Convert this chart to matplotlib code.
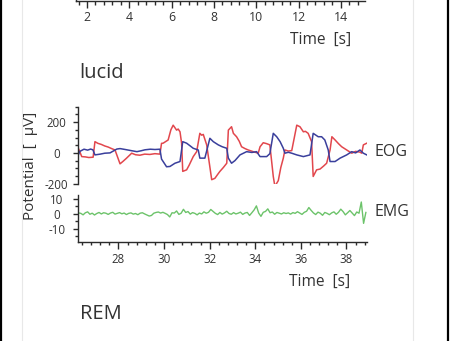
import numpy as np
import matplotlib
matplotlib.use("Agg")
import matplotlib.pyplot as plt
from matplotlib.lines import Line2D
from matplotlib.ticker import MultipleLocator

plt.rcParams['font.family'] = ['Open Sans', 'DejaVu Sans']

TXT = '#333333'
RED = '#e2474d'
BLUE = '#3a3f9c'
GREEN = '#6cc36a'

# EOG traces: (time [s], potential [µV])
eog_red_t = [26.24, 26.30, 26.39, 26.55, 26.70, 26.89, 26.97, 27.10, 27.25, 27.40,
             27.55, 27.70, 27.85, 28.07, 28.20, 28.35, 28.58, 28.75, 28.94, 29.15,
             29.38, 29.60, 29.82, 29.89, 29.96, 30.18, 30.30, 30.40, 30.55, 30.62,
             30.70, 30.77, 30.82, 30.99, 31.10, 31.28, 31.43, 31.57, 31.65, 31.72,
             31.87, 32.09, 32.23, 32.35, 32.45, 32.60, 32.75, 32.82, 32.96, 33.04,
             33.18, 33.30, 33.40, 33.55, 33.69, 33.91, 34.13, 34.21, 34.35, 34.50,
             34.64, 34.79, 34.86, 35.01, 35.12, 35.23, 35.30, 35.45, 35.60, 35.82,
             35.96, 36.11, 36.20, 36.32, 36.47, 36.54, 36.69, 36.84, 37.00, 37.13,
             37.28, 37.36, 37.50, 37.65, 37.79, 38.01, 38.23, 38.40, 38.59, 38.67,
             38.74, 38.89]
eog_red_v = [30, 10, -24, -26, -30, -28, 73, 62, 55, 45,
             38, 28, 19, -71, -55, -35, -2, -12, -15, -8,
             -10, -5, -8, 62, 63, 84, 150, 180, 148, 155,
             137, 63, -120, -110, -80, -24, 8, 127, 115, 120,
             52, -174, -165, -140, -120, -95, -67, 148, 170, 127,
             105, 75, 40, 28, 19, 8, -2, 40, 66, 60,
             52, -153, -217, -180, -95, -34, 19, 12, 15, 180,
             170, 137, 140, 127, 73, -153, -110, -105, -85, -67,
             19, 105, 84, 60, 40, 19, -2, 10, 5, -2,
             52, 63]

eog_blue_t = [26.24, 26.31, 26.49, 26.65, 26.78, 26.88, 26.97, 27.20, 27.40, 27.63,
              27.93, 28.07, 28.30, 28.55, 28.81, 29.00, 29.16, 29.40, 29.60, 29.82,
              29.89, 30.11, 30.26, 30.48, 30.70, 30.82, 30.99, 31.15, 31.28, 31.50,
              31.57, 31.79, 32.01, 32.16, 32.38, 32.55, 32.75, 32.82, 32.96, 33.11,
              33.33, 33.62, 33.85, 34.06, 34.21, 34.50, 34.64, 34.79, 34.94, 35.09,
              35.23, 35.30, 35.45, 35.60, 35.82, 36.11, 36.40, 36.54, 36.76, 36.91,
              37.05, 37.20, 37.28, 37.50, 37.72, 38.01, 38.23, 38.40, 38.59, 38.74,
              38.89]
eog_blue_v = [-13, 10, 24, 18, 25, 20, -13, -8, -2, 0,
              25, 28, 22, 15, 8, 14, 20, 24, 22, 24,
              -40, -90, -88, -67, -56, 73, 63, 45, 30, 19,
              -34, -34, 95, 73, 52, 40, 30, -34, -67, -50,
              -13, 8, 3, 8, -24, -24, -5, 127, 105, 73,
              30, -2, 4, -2, -13, -24, -13, 127, 105, 105,
              84, 19, -56, -56, -34, -13, 8, 0, 19, -2,
              -13]

# EMG trace, one value every 0.1 s from 26.25 s
emg_t0 = 26.25
emg_dt = 0.1
emg_v = [0.5, 0.2, -0.8, 0.6, 1.2, -0.4, 0.3, -0.9, 0.1, 0.8,
         -0.2, 0.6, 0.3, -0.5, 0.4, 0.9, -0.3, 0.2, 0.7, -0.1,
         0.4, -0.6, 0.2, 0.5, -0.3, 0.1, -0.7, 0.3, 0.6, -0.2,
         -0.9, -1.6, -1.2, 0.3, 0.8, 1.1, 0.4, 0.9, 0.2, -0.6,
         -2.2, 0.6, 0.4, 1.8, -0.5, 0.3, 2.9, 0.8, 1.4, -0.3,
         0.7, 0.2, -0.8, 0.4, -0.2, 1.2, 0.3, 0.9, 2.8, 1.5,
         0.2, -0.6, 0.8, -0.3, 0.5, 1.6, 0.1, -0.4, 0.7, -0.2,
         0.3, 1.0, -0.5, 0.4, 0.8, -1.2, 0.6, 2.5, 5.2, 0.4,
         -1.8, 0.9, 1.5, 3.2, 0.6, 1.1, -0.4, 0.8, 0.3, -0.2,
         0.6, 0.1, 0.5, -0.3, 0.7, 0.2, 1.3, 0.4, -0.5, 0.9,
         1.6, 4.1, 2.2, 0.5, -0.6, 1.0, 0.3, -1.1, 0.8, 0.2,
         -0.7, 0.5, 1.2, -0.4, 0.9, 3.0, 1.4, -0.8, 0.6, 2.1,
         0.4, -1.3, 1.1, 0.3, 7.8, -6.5, 0.8]
emg_t = emg_t0 + emg_dt * np.arange(len(emg_v))

top_ticks = [2, 4, 6, 8, 10, 12, 14]
rem_ticks = [28, 30, 32, 34, 36, 38]

W, H = 454, 341
fig = plt.figure(figsize=(W / 100, H / 100), dpi=100)


def box(x0, y0, x1, y1):
    # pixel box (top-left origin) -> figure fraction rect
    return [x0 / W, 1 - y1 / H, (x1 - x0) / W, (y1 - y0) / H]


def style(ax, spines):
    for s in ax.spines:
        ax.spines[s].set_visible(s in spines)
        ax.spines[s].set_color('#2b2b2b')
        ax.spines[s].set_linewidth(1.0)
    ax.set_facecolor('none')
    ax.tick_params(which='both', direction='out', color='#2b2b2b', width=1.0,
                   labelcolor=TXT)


# frame decoration of the cropped page
for x, c, lw in [(0.8, 'black', 1.6), (448.2, 'black', 1.6),
                 (22, '#e8e8e8', 0.8), (413, '#e8e8e8', 0.8)]:
    fig.add_artist(Line2D([x / W, x / W], [0, 1], color=c, lw=lw))

# top panel (cut off, only x axis visible)
ax0 = fig.add_axes(box(76, -60, 365, 1.2))
style(ax0, ['bottom', 'left'])
ax0.set_xlim(1.48, 15.14)
ax0.set_ylim(0, 1)
ax0.set_xticks(top_ticks)
ax0.xaxis.set_minor_locator(MultipleLocator(0.4))
ax0.set_yticks([])
ax0.tick_params(axis='x', which='major', length=5, labelsize=8.8, pad=2)
ax0.tick_params(axis='x', which='minor', length=3)
fig.text(320.5 / W, 1 - 40 / H, 'Time  [s]', ha='center', va='center',
         fontsize=11.2, color=TXT)
fig.text(79 / W, 1 - 77.5 / H, 'lucid', ha='left', va='baseline',
         fontsize=14.5, color=TXT)

# EOG panel
ax1 = fig.add_axes(box(78.3, 106.7, 367, 183.7))
style(ax1, ['left'])
ax1.plot(eog_red_t, eog_red_v, color=RED, lw=1.1)
ax1.plot(eog_blue_t, eog_blue_v, color=BLUE, lw=1.1)
ax1.set_xlim(26.24, 38.9)
ax1.set_ylim(-200, 300)
ax1.set_xticks([])
ax1.set_yticks([-200, 0, 200])
ax1.set_yticklabels(['-200', '0', '200'])
ax1.yaxis.set_minor_locator(MultipleLocator(50))
ax1.tick_params(axis='y', which='major', length=3.5, labelsize=8.3, pad=12)
ax1.tick_params(axis='y', which='minor', length=2)
for lbl in ax1.get_yticklabels():
    lbl.set_ha('center')

# EMG panel
ax2 = fig.add_axes(box(78.3, 195, 367, 242))
style(ax2, ['left', 'bottom'])
ax2.plot(emg_t, emg_v, color=GREEN, lw=1.0)
ax2.set_xlim(26.24, 38.9)
ax2.set_ylim(-19, 12.5)
ax2.set_yticks([-10, 0, 10])
ax2.set_yticklabels(['-10', '0', '10'])
ax2.yaxis.set_minor_locator(MultipleLocator(5))
ax2.set_xticks(rem_ticks)
ax2.xaxis.set_minor_locator(MultipleLocator(0.4))
ax2.tick_params(axis='y', which='major', length=3.5, labelsize=8.3, pad=12)
ax2.tick_params(axis='y', which='minor', length=2)
ax2.tick_params(axis='x', which='major', length=5, labelsize=8.3, pad=3)
ax2.tick_params(axis='x', which='minor', length=2.5)
for lbl in ax2.get_yticklabels():
    lbl.set_ha('center')

fig.text(30 / W, 1 - 166 / H, 'Potential  [  µV]', rotation=90, ha='center',
         va='center', fontsize=11, color=TXT)
fig.text(375 / W, 1 - 152 / H, 'EOG', ha='left', va='center', fontsize=11.5, color=TXT)
fig.text(375 / W, 1 - 212 / H, 'EMG', ha='left', va='center', fontsize=11.5, color=TXT)
fig.text(320 / W, 1 - 281.5 / H, 'Time  [s]', ha='center', va='center',
         fontsize=11.2, color=TXT)
fig.text(80 / W, 1 - 319.3 / H, 'REM', ha='left', va='baseline',
         fontsize=14.5, color=TXT)

fig.savefig('out.png', dpi=100)
